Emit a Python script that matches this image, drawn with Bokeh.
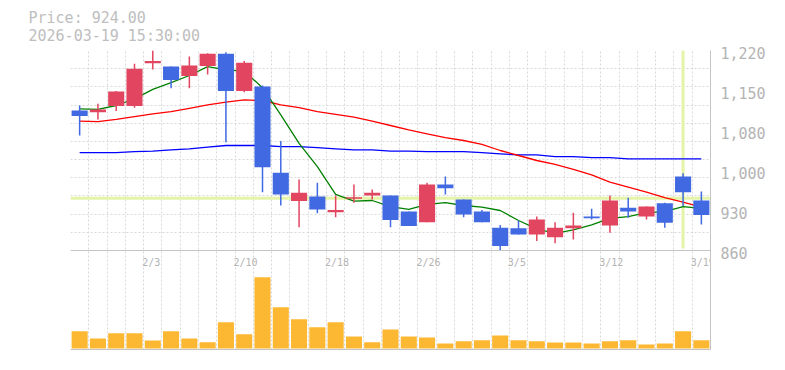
import numpy as np
from bokeh.plotting import figure
from bokeh.models import Range1d, FixedTicker, Span, Title, LinearAxis, ColumnDataSource
from bokeh.embed import file_html
from bokeh.resources import INLINE

# ---------------- data ----------------
dates = ["1/28", "1/29", "1/30", "2/2", "2/3", "2/4", "2/5", "2/6", "2/9", "2/10",
         "2/12", "2/13", "2/16", "2/17", "2/18", "2/19", "2/20", "2/24", "2/25", "2/26",
         "2/27", "3/2", "3/3", "3/4", "3/5", "3/6", "3/9", "3/10", "3/11", "3/12",
         "3/13", "3/16", "3/17", "3/18", "3/19"]
opens = [1112, 1109, 1120, 1120, 1197, 1191, 1174, 1192, 1214, 1147,
         1155, 1000, 949, 957, 929, 953, 959, 959, 930, 911,
         979, 952, 930, 901, 900, 889, 884, 900, 921, 905,
         937, 921, 945, 993, 950]
highs = [1121, 1124, 1147, 1196, 1220, 1191, 1209, 1215, 1217, 1201,
         1157, 1057, 988, 982, 959, 979, 970, 959, 930, 982,
         993, 952, 933, 906, 914, 921, 911, 928, 935, 959,
         955, 939, 946, 999, 966]
lows = [1067, 1096, 1111, 1117, 1186, 1152, 1152, 1177, 1055, 1145,
        965, 941, 902, 927, 920, 946, 952, 902, 904, 911,
        961, 920, 911, 859, 889, 877, 873, 880, 916, 892,
        919, 916, 901, 940, 907]
closes = [1102, 1114, 1146, 1187, 1201, 1167, 1193, 1214, 1147, 1198,
          1010, 961, 964, 934, 933, 956, 964, 915, 904, 979,
          972, 925, 911, 868, 889, 916, 901, 905, 918, 950,
          930, 939, 910, 965, 924]
volumes = [173, 100, 153, 153, 80, 173, 100, 63, 263, 143,
           713, 413, 293, 213, 263, 120, 63, 190, 120, 110,
           50, 73, 83, 130, 83, 73, 60, 60, 50, 73,
           83, 40, 50, 173, 83]
ma_short = [1115, 1114, 1121, 1133, 1150, 1162, 1175, 1191, 1185, 1183,
            1153, 1104, 1053, 1011, 961, 949, 950, 939, 934, 943,
            946, 941, 938, 932, 914, 899, 891, 897, 906, 918,
            921, 928, 930, 939, 936]
ma_mid = [1093, 1092, 1096, 1101, 1106, 1110, 1116, 1122, 1127, 1131,
          1130, 1122, 1117, 1110, 1105, 1100, 1093, 1085, 1077, 1070,
          1063, 1058, 1051, 1040, 1031, 1022, 1015, 1006, 996, 983,
          974, 965, 955, 947, 938]
ma_long = [1036, 1036, 1036, 1038, 1039, 1041, 1043, 1046, 1049, 1049,
           1049, 1047, 1047, 1045, 1043, 1041, 1041, 1039, 1039, 1038,
           1038, 1038, 1036, 1034, 1032, 1032, 1029, 1029, 1027, 1027,
           1025, 1025, 1025, 1025, 1025]
tick_dates = ["2/3", "2/10", "2/18", "2/26", "3/5", "3/12", "3/19"]
price_ticks = [1220, 1148, 1076, 1004, 932, 860]
price_tick_labels = ["1,220", "1,150", "1,080", "1,000", "930", "860"]
last_timestamp = "2026-03-19 15:30:00"
crosshair_date = "3/18"
crosshair_price = 954

# ---------------- styling / layout ----------------
UP = "#e2455f"
DOWN = "#4169e1"
VOL = "#fdb833"
AXIS = "#c4c4c4"
GRID = "#d9d9d9"
TXT = "#b4b4b4"
CROSS = "#e4f4a8"
MONO = "DejaVu Sans Mono"
DATE_FS = 10
CHAR_W = 0.602 * DATE_FS     # monospace advance

FRAME_H = 299          # px of whole plotting frame
PRICE_H = 200          # px of price panel
FRAME_W = 640
price_lo, price_hi = min(price_ticks), max(price_ticks)
per_px = (price_hi - price_lo) / PRICE_H
y_start = price_lo - per_px * (FRAME_H - PRICE_H)
x_per_px = len(dates) / FRAME_W

vol_per_px = 10.0
vol_start = -vol_per_px * 1
vol_end = vol_start + vol_per_px * FRAME_H

idx = np.arange(len(dates))
o = np.array(opens, dtype=float)
c = np.array(closes, dtype=float)
colors = np.where(c >= o, UP, DOWN)
src = ColumnDataSource(dict(x=idx, high=highs, low=lows,
                            top=np.maximum(o, c), bottom=np.minimum(o, c),
                            color=colors, vol=volumes))

p = figure(width=770, height=369,
           x_range=Range1d(-0.5, len(dates) - 0.5),
           y_range=Range1d(y_start, price_hi),
           y_axis_location="right", title=None,
           output_backend="svg", toolbar_location=None,
           min_border_left=70, min_border_right=60,
           min_border_top=50, min_border_bottom=20,
           outline_line_color=None,
           background_fill_color="white", border_fill_color="white")
p.extra_y_ranges = {"vol": Range1d(vol_start, vol_end)}

# header text (two-line title above the frame)
p.add_layout(Title(text=f"Price: {closes[-1]:.2f}\n{last_timestamp}", align="left",
                   vertical_align="middle", offset=-42, standoff=9, text_line_height=1.0,
                   text_font=MONO, text_font_size="15px", text_font_style="normal",
                   text_color="#bebebe"), "above")

# price axis (right)
label_shift = 2 * per_px
shifted = [t - label_shift for t in price_ticks]
ya = p.yaxis[0]
ya.ticker = FixedTicker(ticks=shifted)
ya.major_label_overrides = {t: l for t, l in zip(shifted, price_tick_labels)}
ya.major_tick_line_color = None
ya.minor_tick_line_color = None
ya.major_tick_out = 0
ya.minor_tick_out = 0
ya.major_label_standoff = 10
ya.axis_line_color = AXIS
ya.major_label_text_font = MONO
ya.major_label_text_font_size = "15px"
ya.major_label_text_color = TXT

# bottom border line
xa = p.xaxis[0]
xa.ticker = FixedTicker(ticks=[])
xa.major_tick_line_color = None
xa.minor_tick_line_color = None
xa.major_tick_out = 0
xa.minor_tick_out = 0
xa.major_label_standoff = 0
xa.major_label_text_font_size = "0px"
xa.axis_line_color = AXIS

# date axis drawn on the panel separator; labels start at the candle's left grid line
tick_idx = np.array([dates.index(d) for d in tick_dates])
date_pos = [float(i - 0.5 + (len(s) * CHAR_W / 2 - 1.5) * x_per_px)
            for i, s in zip(tick_idx, tick_dates)]
date_axis = LinearAxis(fixed_location=price_lo,
                       ticker=FixedTicker(ticks=date_pos),
                       major_label_overrides={t: l for t, l in zip(date_pos, tick_dates)},
                       major_tick_line_color=None, minor_tick_line_color=None,
                       major_tick_out=0, minor_tick_out=0, major_label_standoff=6,
                       major_label_text_font=MONO, major_label_text_font_size=f"{DATE_FS}px",
                       major_label_text_color=TXT, axis_line_color=AXIS)
p.add_layout(date_axis, "below")

# grids
p.xgrid.ticker = FixedTicker(ticks=list(idx - 0.5))
p.ygrid.ticker = FixedTicker(ticks=list(np.linspace(price_lo, price_hi, 12)))
for g in (p.xgrid, p.ygrid):
    g.grid_line_color = GRID
    g.grid_line_dash = "2 2"
    g.grid_line_width = 1

# crosshair
p.add_layout(Span(location=crosshair_price, dimension="width", line_color=CROSS,
                  line_width=3, level="underlay"))
ci = dates.index(crosshair_date)
p.segment(x0=[ci], x1=[ci], y0=[price_hi], y1=[price_lo + 2 * per_px],
          line_color=CROSS, line_width=3)

# volume
p.vbar(x="x", top="vol", bottom=0, width=0.88, source=src, y_range_name="vol",
       fill_color=VOL, line_color=None)

# moving averages
p.line(idx, ma_long, line_color="#0000ff", line_width=1.3)
p.line(idx, ma_mid, line_color="#ff0000", line_width=1.3)
p.line(idx, ma_short, line_color="#008000", line_width=1.3)

# candles
p.segment(x0="x", x1="x", y0="high", y1="low", line_color="color", line_width=1.5, source=src)
p.vbar(x="x", top="top", bottom="bottom", width=0.88, fill_color="color",
       line_color=None, source=src)

open("out.html", "w").write(file_html(p, INLINE))
